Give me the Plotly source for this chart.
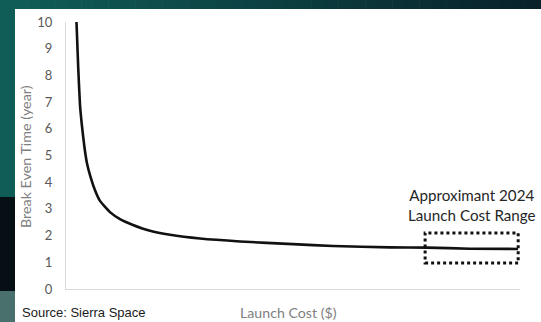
import plotly.graph_objects as go

# ---- data ----
launch_cost = [2.31, 2.69, 3.08, 3.52, 4.07, 4.63, 5.40, 6.39, 7.49, 9.69, 11.89, 14.76,
               18.50, 22.91, 29.52, 38.33, 50.0, 58.81, 71.37, 79.52, 88.99, 99.56]
break_even = [10.0, 8.3, 6.9, 6.1, 5.3, 4.7, 4.2, 3.7, 3.3, 2.88, 2.62, 2.4,
              2.18, 2.03, 1.89, 1.78, 1.68, 1.61, 1.56, 1.55, 1.51, 1.50]
y_ticks = list(range(0, 11))
range_box_x = [79.1, 99.6]
range_box_y = [0.97, 2.1]
range_label_pos = [89.5, 3.15]

W, H = 541, 322
ML, MR, MT, MB = 66, 21, 22, 33
PW, PH = W - ML - MR, H - MT - MB


def px(x):
    return (x - ML) / PW


def py(y):
    return (H - MB - y) / PH


def lerp(c1, c2, t):
    return "rgb(%d,%d,%d)" % tuple(round(a + (b - a) * t) for a, b in zip(c1, c2))


fig = go.Figure()
fig.add_trace(go.Scatter(x=launch_cost, y=break_even, mode="lines",
                         line=dict(color="#111111", width=2.6, shape="spline", smoothing=0.4),
                         hoverinfo="skip", showlegend=False))

shapes = []
# top gradient strip
N = 40
c_left, c_right = (16, 94, 88), (8, 33, 42)
for i in range(N):
    x0 = W * i / N
    x1 = W * (i + 1) / N + 0.6
    shapes.append(dict(type="rect", xref="paper", yref="paper", x0=px(x0), x1=px(x1),
                       y0=py(9), y1=py(0), fillcolor=lerp(c_left, c_right, i / (N - 1)),
                       line=dict(width=0), layer="below"))
# left strip segments
shapes.append(dict(type="rect", xref="paper", yref="paper", x0=px(0), x1=px(15),
                   y0=py(197), y1=py(0), fillcolor="rgb(16,92,86)", line=dict(width=0), layer="below"))
shapes.append(dict(type="rect", xref="paper", yref="paper", x0=px(0), x1=px(15),
                   y0=py(291), y1=py(197), fillcolor="rgb(5,15,20)", line=dict(width=0), layer="below"))
shapes.append(dict(type="rect", xref="paper", yref="paper", x0=px(0), x1=px(15),
                   y0=py(322), y1=py(291), fillcolor="rgb(74,112,110)", line=dict(width=0), layer="below"))
# dotted range box
shapes.append(dict(type="rect", xref="x", yref="y", x0=range_box_x[0], x1=range_box_x[1],
                   y0=range_box_y[0], y1=range_box_y[1],
                   line=dict(color="#111111", width=3, dash="dot")))

annotations = [
    dict(text="Approximant 2024<br>Launch Cost Range", x=range_label_pos[0], y=range_label_pos[1],
         xref="x", yref="y", showarrow=False, font=dict(family="Lato", size=15.2, color="#262626"),
         align="center", xanchor="center", yanchor="middle"),
    dict(text="Break Even Time (year)", xref="paper", yref="paper", x=px(25), y=py(157),
         xanchor="center", yanchor="middle",
         textangle=-90, showarrow=False, font=dict(family="Lato", size=14.3, color="#7f7f7f")),
    dict(text="Launch Cost ($)", xref="paper", yref="paper", x=px(288), y=py(312),
         xanchor="center", yanchor="middle",
         showarrow=False, font=dict(family="Lato", size=14.2, color="#7f7f7f")),
    dict(text="Source: Sierra Space", xref="paper", yref="paper", x=px(20), y=py(312),
         xanchor="left", yanchor="middle", showarrow=False,
         font=dict(family="Liberation Sans", size=13, color="#1a1a1a")),
]

fig.update_layout(
    width=W, height=H, margin=dict(l=ML, r=MR, t=MT, b=MB),
    paper_bgcolor="white", plot_bgcolor="rgba(0,0,0,0)",
    shapes=shapes, annotations=annotations, showlegend=False,
    xaxis=dict(range=[0, 100], showticklabels=False, ticks="", showgrid=False, zeroline=False,
               showline=True, linecolor="#d9d9d9", linewidth=1.2, fixedrange=True),
    yaxis=dict(range=[0, 10], tickvals=y_ticks, ticktext=[str(v) for v in y_ticks],
               ticks="outside", ticklen=10, tickcolor="rgba(0,0,0,0)",
               showgrid=False, zeroline=False, showline=True, linecolor="#d9d9d9", linewidth=1.2,
               tickfont=dict(family="Lato", size=13, color="#595959"), fixedrange=True),
)

fig.write_html("out.html")
